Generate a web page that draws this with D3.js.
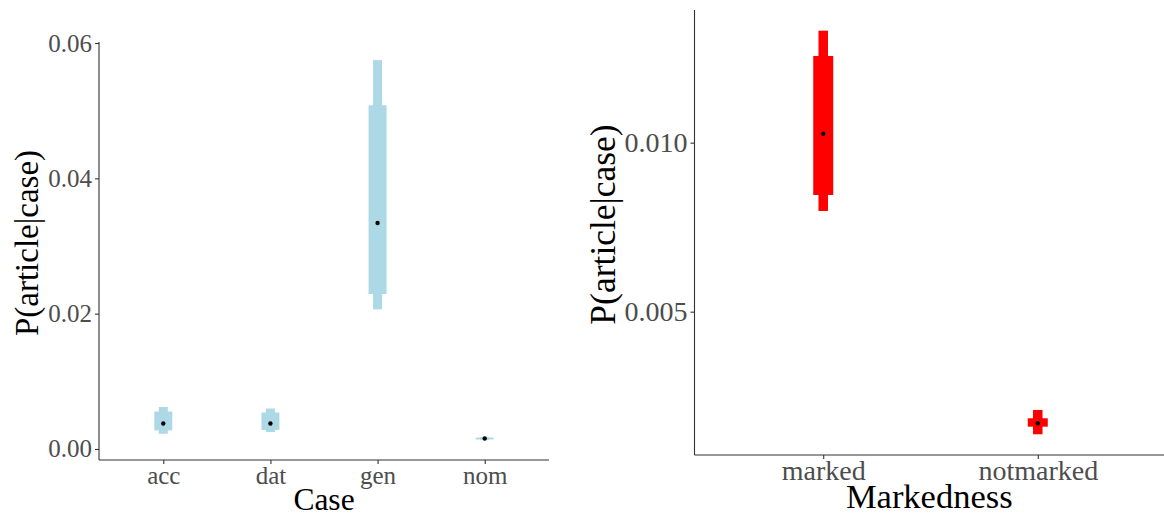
<!DOCTYPE html>
<html>
<head>
<meta charset="utf-8">
<script src="https://cdn.jsdelivr.net/npm/d3@7"></script>
<style>
  html, body { margin: 0; padding: 0; background: #fff; }
  svg { display: block; }
  text { font-family: "Liberation Serif", "DejaVu Serif", serif; }
</style>
</head>
<body>
<svg id="chart" width="1164" height="516"></svg>
<script>
// ---- Left panel data (Case) ----
const cases = ["acc", "dat", "gen", "nom"];
const caseEst   = [0.00377, 0.00377, 0.03340, 0.00155];
const caseOutLo = [0.00225, 0.00250, 0.02064, 0.00133];
const caseOutHi = [0.00621, 0.00598, 0.05748, 0.00177];
const caseInLo  = [0.00275, 0.00281, 0.02290, 0.00141];
const caseInHi  = [0.00554, 0.00539, 0.05079, 0.00169];
const caseTicks = [0.00, 0.02, 0.04, 0.06];

// ---- Right panel data (Markedness) ----
const marks = ["marked", "notmarked"];
const markEst   = [0.010266, 0.001698];
const markOutLo = [0.007979, 0.001373];
const markOutHi = [0.013314, 0.002092];
const markInLo  = [0.008453, 0.001598];
const markInHi  = [0.012565, 0.001846];
const markTicks = [0.005, 0.010];

const svg = d3.select("#chart");

function panel(cfg) {
  const g = svg.append("g");
  const x = d3.scalePoint().domain(cfg.cats).range([cfg.x0, cfg.x1]).padding(0.6);
  const y = d3.scaleLinear().domain(cfg.ydom).range([cfg.y1, cfg.y0]);

  const rows = cfg.cats.map((c, i) => ({
    c, est: cfg.est[i], olo: cfg.olo[i], ohi: cfg.ohi[i], ilo: cfg.ilo[i], ihi: cfg.ihi[i]
  }));

  g.selectAll("rect.outer").data(rows).enter().append("rect")
    .attr("x", d => x(d.c) - cfg.thinW / 2)
    .attr("width", cfg.thinW)
    .attr("y", d => y(d.ohi))
    .attr("height", d => Math.max(1, y(d.olo) - y(d.ohi)))
    .attr("fill", cfg.color);
  g.selectAll("rect.inner").data(rows).enter().append("rect")
    .attr("x", d => x(d.c) - cfg.thickW / 2)
    .attr("width", cfg.thickW)
    .attr("y", d => y(d.ihi))
    .attr("height", d => Math.max(1.5, y(d.ilo) - y(d.ihi)))
    .attr("fill", cfg.color);
  g.selectAll("circle").data(rows).enter().append("circle")
    .attr("cx", d => x(d.c))
    .attr("cy", d => y(d.est))
    .attr("r", 2.2)
    .attr("fill", "#000");

  const yAxis = d3.axisLeft(y).tickValues(cfg.ticks).tickFormat(cfg.fmt).tickSize(4).tickPadding(3);
  const ga = g.append("g").attr("transform", `translate(${cfg.x0},0)`).call(yAxis);
  ga.select(".domain").attr("d", `M0,${cfg.y0}V${cfg.y1}`).attr("stroke", "#333").attr("stroke-width", 1.1);
  ga.selectAll(".tick line").attr("stroke", "#333").attr("stroke-width", 1.1);
  ga.selectAll(".tick text").attr("fill", "#4D4D4D").style("font-size", cfg.tickFs + "px")
    .style("font-family", '"Liberation Serif", serif');

  const xAxis = d3.axisBottom(x).tickSize(4).tickPadding(cfg.xTickPad);
  const gx = g.append("g").attr("transform", `translate(0,${cfg.y1})`).call(xAxis);
  gx.select(".domain").attr("d", `M${cfg.x0},0H${cfg.x1}`).attr("stroke", "#333").attr("stroke-width", 1.1);
  gx.selectAll(".tick line").attr("stroke", "#333").attr("stroke-width", 1.1);
  gx.selectAll(".tick text").attr("fill", "#4D4D4D").style("font-size", cfg.tickFs + "px")
    .style("font-family", '"Liberation Serif", serif');

  g.append("text")
    .attr("x", (cfg.x0 + Math.min(cfg.x1, 1164)) / 2 + cfg.xTitleDx)
    .attr("y", cfg.xTitleY)
    .attr("text-anchor", "middle")
    .attr("fill", "#000")
    .style("font-size", cfg.titleFs + "px")
    .text(cfg.xTitle);
  g.append("text")
    .attr("transform", `translate(${cfg.yTitleX},${(cfg.y0 + cfg.y1) / 2 + cfg.yTitleDy}) rotate(-90)`)
    .attr("text-anchor", "middle")
    .attr("fill", "#000")
    .style("font-size", cfg.yTitleFs + "px")
    .text("P(article|case)");
}

panel({
  cats: cases, est: caseEst, olo: caseOutLo, ohi: caseOutHi, ilo: caseInLo, ihi: caseInHi,
  ticks: caseTicks, fmt: d3.format(".2f"),
  x0: 99, x1: 549, y0: 42, y1: 460,
  ydom: [-0.00163, 0.06015],
  color: "#ADD8E6", thinW: 9, thickW: 18,
  tickFs: 25, titleFs: 31.5, yTitleFs: 33, xTickPad: 2,
  xTitle: "Case", xTitleY: 510, xTitleDx: 0,
  yTitleX: 38, yTitleDy: -8
});

panel({
  cats: marks, est: markEst, olo: markOutLo, ohi: markOutHi, ilo: markInLo, ihi: markInHi,
  ticks: markTicks, fmt: d3.format(".3f"),
  x0: 694.5, x1: 1166.5, y0: 10, y1: 455,
  ydom: [0.00076, 0.013925],
  color: "#FF0000", thinW: 9.5, thickW: 20,
  tickFs: 28, titleFs: 34.5, yTitleFs: 35.5, xTickPad: 1,
  xTitle: "Markedness", xTitleY: 508, xTitleDx: 0,
  yTitleX: 615, yTitleDy: -8
});
</script>
</body>
</html>
